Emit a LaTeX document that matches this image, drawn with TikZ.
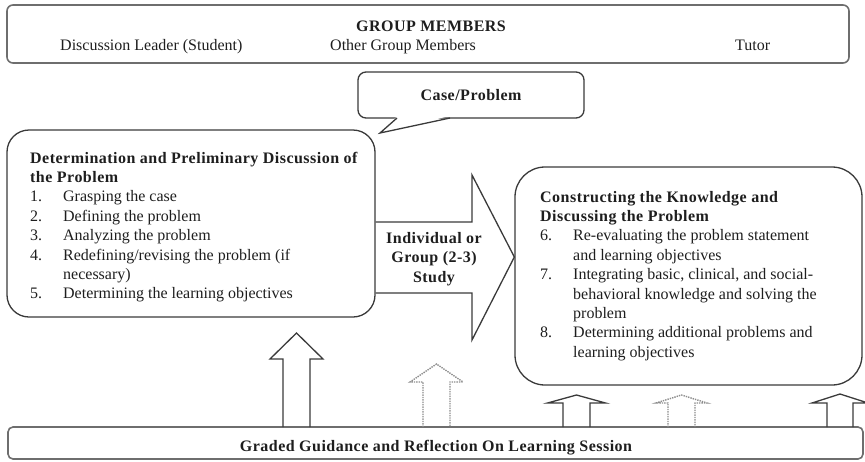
\documentclass[tikz,border=0pt]{standalone}
\usepackage{fontspec}
\setmainfont[BoldFeatures={LetterSpace=3}]{Liberation Serif}
\definecolor{ln}{HTML}{3A3A3A}
\definecolor{fr}{HTML}{6E6E6E}
\definecolor{dt}{HTML}{8C8C8C}
\definecolor{tx}{HTML}{1E1E1E}
\tikzset{
  txt/.style={inner sep=0pt, text=tx, font=\fontsize{16}{19.4}\selectfont},
  bandbox/.style={draw=fr, line width=1.6pt, rounded corners=6pt, inner sep=0pt},
  mainbox/.style={draw=ln, line width=1.3pt, inner sep=0pt},
  solidup/.style={draw=ln, line width=1.3pt, line join=miter},
  dottedup/.style={draw=dt, line width=1.4pt, densely dotted},
}
\newcommand{\uparr}[7][]{%
  \draw[#1] (#2-#3,#5) -- (#2-#3,#6) -- (#2-#4,#6) -- (#2,#7) -- (#2+#4,#6) -- (#2+#3,#6) -- (#2+#3,#5);}
\begin{document}
\begin{tikzpicture}[x=1pt,y=-1pt]
\useasboundingbox (0,0) rectangle (865,461);

% top band
\node[bandbox, minimum width=842pt, minimum height=58pt] (top) at (428,34) {};
\node[txt, anchor=base, font=\fontsize{16}{19.4}\selectfont\bfseries] (gm) at (431,31) {GROUP MEMBERS};
\node[txt, anchor=base west] (dl) at (60,50) {Discussion Leader (Student)};
\node[txt, anchor=base west] (og) at (330,50) {Other Group Members};
\node[txt, anchor=base west] (tu) at (735,50) {Tutor};

% case / problem callout
\node[mainbox, rounded corners=8pt, minimum width=226pt, minimum height=46pt] (case) at (471,95) {};
\node[txt, font=\fontsize{16}{19.4}\selectfont\bfseries] (caset) at (471,95) {Case/Problem};
\coordinate (ptip) at (380,133);
\fill[white] (397.5,116) -- (ptip) -- (449.5,116) -- cycle;
\draw[ln, line width=1.3pt, line join=miter] (397,118) -- (ptip) -- (450,118);

% left box
\node[mainbox, rounded corners=22pt, minimum width=368pt, minimum height=187pt] (left) at (191,223.5) {};
\node[txt, anchor=base west] (ltxt) at (30,163) {\parbox[t]{340pt}{%
\textbf{Determination and Preliminary Discussion of}\\
\textbf{the Problem}\\
\makebox[33pt][l]{1.}Grasping the case\\
\makebox[33pt][l]{2.}Defining the problem\\
\makebox[33pt][l]{3.}Analyzing the problem\\
\makebox[33pt][l]{4.}Redefining/revising the problem (if\\
\hspace*{33pt}necessary)\\
\makebox[33pt][l]{5.}Determining the learning objectives}};

% right box
\node[mainbox, rounded corners=30pt, minimum width=347pt, minimum height=218pt] (right) at (688.5,276) {};
\node[txt, anchor=base west] (rtxt) at (540,202) {\parbox[t]{315pt}{%
\textbf{Constructing the Knowledge and}\\
\textbf{Discussing the Problem}\\
\makebox[33pt][l]{6.}Re-evaluating the problem statement\\
\hspace*{33pt}and learning objectives\\
\makebox[33pt][l]{7.}Integrating basic, clinical, and social-\\
\hspace*{33pt}behavioral knowledge and solving the\\
\hspace*{33pt}problem\\
\makebox[33pt][l]{8.}Determining additional problems and\\
\hspace*{33pt}learning objectives}};

% big study arrow from left box to right box
\draw[ln, line width=1.3pt, line join=miter] (left.east |- 0,222) -- (472,222) -- (472,175) -- (right.west |- 0,257) -- (472,340) -- (472,293) -- (left.east |- 0,293);
\node[txt, align=center, font=\fontsize{16}{19.4}\selectfont\bfseries] (study) at (434,259) {Individual or\\Group (2-3)\\Study};

% bottom band
\node[bandbox, rounded corners=5pt, minimum width=855pt, minimum height=32pt] (bot) at (435.5,443) {};
\node[txt, anchor=base, font=\fontsize{16}{19.4}\selectfont\bfseries] (bott) at (436,451) {Graded Guidance and Reflection On Learning Session};

% up arrows
\uparr[solidup]{296.5}{13.5}{26.5}{427}{359}{333}
\uparr[dottedup]{436.5}{13.5}{26.5}{427}{382}{364}
\uparr[solidup]{576.5}{13.5}{29}{427}{403}{395}
\uparr[dottedup]{681.5}{13.5}{25.5}{427}{403}{395}
\uparr[solidup]{840}{13}{28}{427}{403}{394}
\end{tikzpicture}
\end{document}
